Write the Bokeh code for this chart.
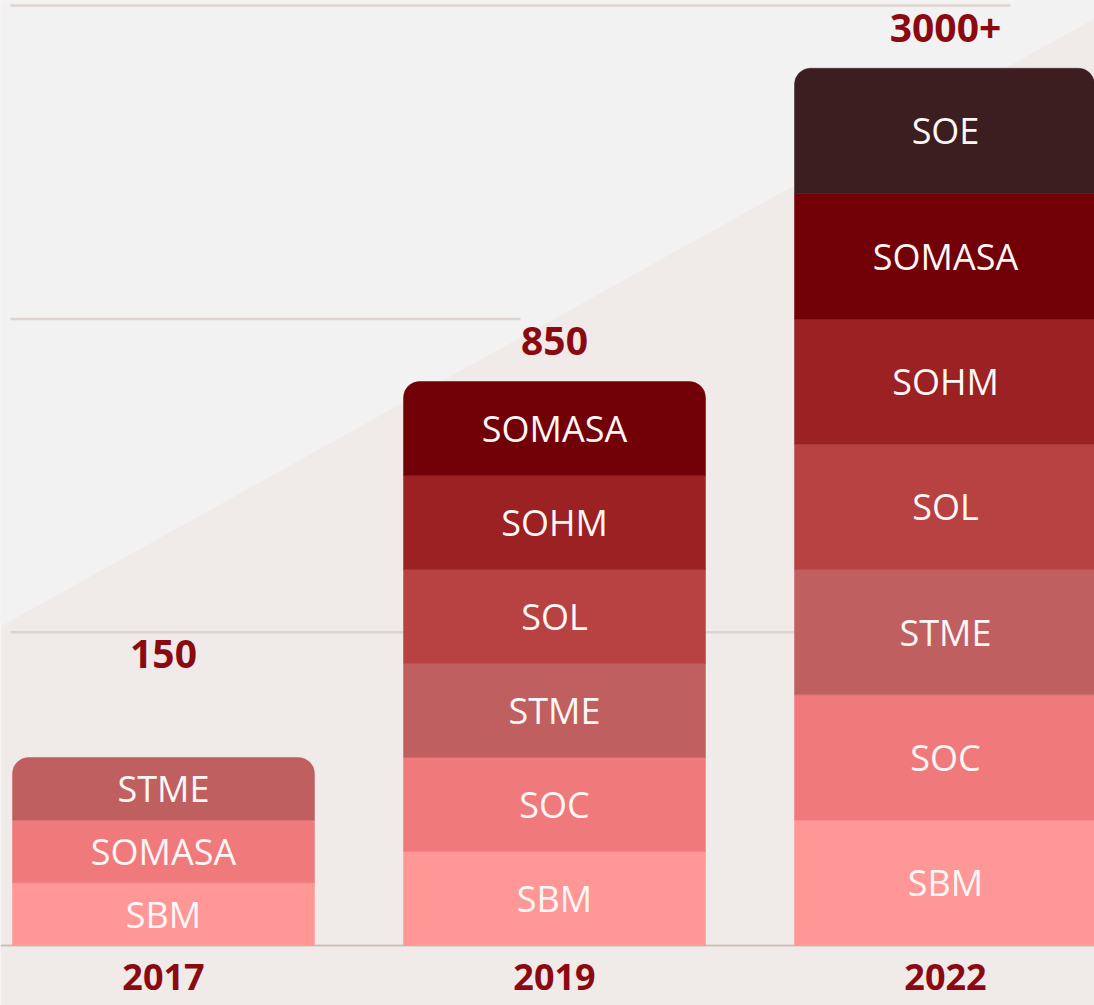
import math
from bokeh.plotting import figure
from bokeh.models import ColumnDataSource, Range1d
from bokeh.core.properties import value
from bokeh.embed import file_html
from bokeh.resources import INLINE

# ---------------- data ----------------
years = ["2017", "2019", "2022"]
totals = ["150", "850", "3000+"]
schools_2017 = ["SBM", "SOMASA", "STME"]
schools_2019 = ["SBM", "SOC", "STME", "SOL", "SOHM", "SOMASA"]
schools_2022 = ["SBM", "SOC", "STME", "SOL", "SOHM", "SOMASA", "SOE"]
block_height = [0.2, 0.3, 0.4]          # height of one block per year (grid units)
stack_colors = ["#ff9797", "#f07a7b", "#c05f60", "#b84142",
                "#9b2122", "#710007", "#3c1e21"]   # by position, bottom -> top

schools = [schools_2017, schools_2019, schools_2022]

# ---------------- layout helpers ----------------
W, H = 1094, 1005
X0PX, XUNIT = 163.0, 391.0
Y0PX, YUNIT = 945.0, 313.3


def px_x(px):
    return (px - X0PX) / XUNIT


def px_y(py):
    return (Y0PX - py) / YUNIT


BAR_W = 302 / XUNIT

p = figure(width=W, height=H, output_backend="svg", toolbar_location=None,
           x_range=Range1d(px_x(0), px_x(W)), y_range=Range1d(px_y(H), px_y(0)),
           x_axis_location=None, y_axis_location=None, min_border=0)
p.grid.visible = False
p.outline_line_color = None
p.background_fill_color = "#f0ebe8"
p.border_fill_color = "#f0ebe8"

# diagonal background split
p.patch(x=[px_x(0), px_x(W), px_x(W), px_x(0)],
        y=[px_y(0), px_y(0), px_y(18), px_y(626)],
        fill_color="#f2f2f2", line_color=None)

# guide lines
p.segment(x0=[px_x(10)] * 3, x1=[px_x(1094), px_x(520), px_x(1010)],
          y0=[1, 2, 3], y1=[1, 2, 3], line_color="#ddd3cf", line_width=2.5)
p.segment(x0=[px_x(0)], x1=[px_x(W)], y0=[0], y1=[0],
          line_color="#cdbfba", line_width=2)

# ---------------- build stacks ----------------
body = dict(x=[], bottom=[], top=[], color=[], label=[], mid=[])
cap = dict(x=[], bottom=[], top=[], color=[], label=[], mid=[])
for i, (names, h) in enumerate(zip(schools, block_height)):
    n = len(names)
    for j, name in enumerate(names):
        d = cap if j == n - 1 else body
        d["x"].append(i)
        d["bottom"].append(j * h)
        d["top"].append((j + 1) * h)
        d["color"].append(stack_colors[j])
        d["label"].append(name)
        d["mid"].append((j + 0.5) * h)

src_body = ColumnDataSource(body)
src_cap = ColumnDataSource(cap)

p.vbar(x="x", width=BAR_W, bottom="bottom", top="top", source=src_body,
       fill_color="color", line_color="color", line_width=0.5)
p.vbar(x="x", width=BAR_W, bottom="bottom", top="top", source=src_cap,
       fill_color="color", line_color="color", line_width=0.5,
       border_radius=(16, 16, 0, 0))

for src in (src_body, src_cap):
    p.text(x="x", y="mid", text="label", source=src,
           text_font=value("Open Sans"), text_font_size="36px",
           text_color="#fff6f6", text_align="center", text_baseline="middle")

# ---------------- totals and years ----------------
idx = list(range(len(years)))
label_y = [math.ceil(len(s) * h - 1e-9) for s, h in zip(schools, block_height)]
src_tot = ColumnDataSource(dict(x=idx, y=label_y, t=totals))
p.text(x="x", y="y", text="t", source=src_tot, y_offset=22,
       text_font=value("Open Sans"), text_font_style="bold",
       text_font_size="39px", text_color="#8b0a12",
       text_align="center", text_baseline="middle")

src_year = ColumnDataSource(dict(x=idx, y=[0] * len(years), t=years))
p.text(x="x", y="y", text="t", source=src_year, y_offset=31,
       text_font=value("Open Sans"), text_font_style="bold",
       text_font_size="36px", text_color="#8b0a12",
       text_align="center", text_baseline="middle")

open("out.html", "w").write(file_html(p, INLINE))
